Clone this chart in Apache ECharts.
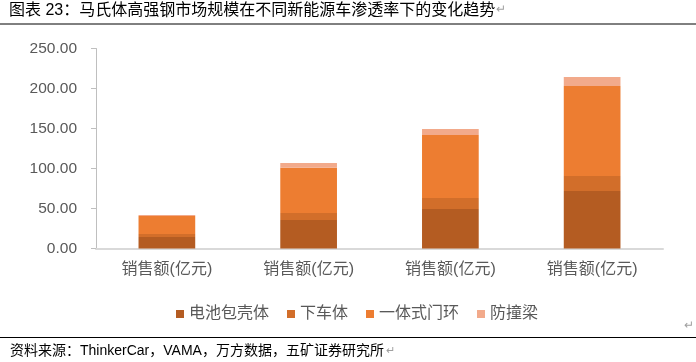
<!DOCTYPE html>
<html>
<head>
<meta charset="utf-8">
<script src="https://cdn.jsdelivr.net/npm/echarts@6/dist/echarts.min.js"></script>
<style>
html,body{margin:0;padding:0;background:#fff;}
#c{width:696px;height:362px;}
</style>
</head>
<body>
<div id="c"></div>
<script>
var categories = ['销售额(亿元)', '销售额(亿元)', '销售额(亿元)', '销售额(亿元)'];
var seriesNames = ['电池包壳体', '下车体', '一体式门环', '防撞梁'];
var batteryCase = [14.4, 35.6, 49.4, 71.9];
var underBody = [3.7, 8.8, 13.7, 18.7];
var doorRing = [22.5, 56.6, 78.8, 112.4];
var bumperBeam = [1.3, 5.9, 7.5, 11.4];
var yTicks = [0, 50, 100, 150, 200, 250];
var titleText = '图表 23：马氏体高强钢市场规模在不同新能源车渗透率下的变化趋势';
var sourceText = '资料来源：ThinkerCar，VAMA，万方数据，五矿证券研究所';

var colors = ['#B45C22', '#D26E2A', '#ED7D31', '#F2AA8B'];
var values = [batteryCase, underBody, doorRing, bumperBeam];
var cjk = '"Liberation Sans", "Noto Sans CJK SC", sans-serif';

var chart = echarts.init(document.getElementById('c'), null, {renderer: 'canvas'});
chart.setOption({
  animation: false,
  backgroundColor: '#fff',
  textStyle: {fontFamily: cjk},
  grid: {left: 96, right: 33, top: 48.5, bottom: 113.5},
  legend: {
    left: 171, top: 301,
    itemWidth: 8, itemHeight: 8, itemGap: 18,
    icon: 'rect',
    textStyle: {color: '#595959', fontSize: 16, fontFamily: cjk},
    data: seriesNames
  },
  xAxis: {
    type: 'category',
    data: categories,
    axisLine: {lineStyle: {color: '#D9D9D9', width: 2}},
    axisTick: {show: false},
    axisLabel: {color: '#595959', fontSize: 16, margin: 13, fontFamily: cjk}
  },
  yAxis: {
    type: 'value',
    min: yTicks[0], max: yTicks[yTicks.length - 1], interval: 50,
    axisLine: {show: true, lineStyle: {color: '#BFBFBF'}},
    axisTick: {show: true, length: 5, lineStyle: {color: '#BFBFBF'}},
    splitLine: {show: false},
    axisLabel: {color: '#595959', fontSize: 15.5, margin: 19, fontFamily: cjk,
      formatter: function (v) { return v.toFixed(2); }}
  },
  series: seriesNames.map(function (n, i) {
    return {
      name: n, type: 'bar', stack: 'total', barWidth: '40%',
      itemStyle: {color: colors[i]},
      data: values[i]
    };
  }),
  graphic: [
    {type: 'text', left: 9, top: 3, style: {text: titleText, fontSize: 16, fill: '#000', fontFamily: cjk}},
    {type: 'text', left: 496, top: 4, style: {text: '↵', fontSize: 12, fill: '#A0A0A0', fontFamily: cjk}},
    {type: 'line', shape: {x1: 0, y1: 24, x2: 696, y2: 24}, style: {stroke: '#000', lineWidth: 1}},
    {type: 'text', left: 684, top: 320, style: {text: '↵', fontSize: 12, fill: '#A0A0A0', fontFamily: cjk}},
    {type: 'line', shape: {x1: 0, y1: 337.5, x2: 696, y2: 337.5}, style: {stroke: '#000', lineWidth: 1}},
    {type: 'text', left: 10, top: 344, style: {text: sourceText, fontSize: 14, fill: '#000', fontFamily: cjk}},
    {type: 'text', left: 386, top: 345, style: {text: '↵', fontSize: 11, fill: '#A0A0A0', fontFamily: cjk}}
  ]
});
</script>
</body>
</html>
